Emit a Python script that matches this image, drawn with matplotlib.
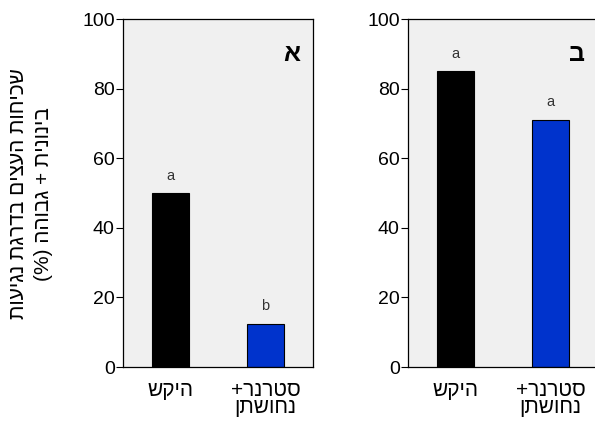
import matplotlib
matplotlib.use("Agg")
import matplotlib.pyplot as plt

plt.rcParams['font.family'] = ['Liberation Sans', 'DejaVu Sans']

# data
groups = ["היקש", "סטרנר+\nנחושתן"]
values_a = [50, 12.5]
values_b = [85, 71]
letters_a = ["a", "b"]
letters_b = ["a", "a"]
panel_names = ["א", "ב"]
bar_colors = ["black", "#0033cc"]
ylabel_lines = ["שכיחות העצים בדרגת נגיעות", "בינונית + גבוהה (%)"]


def rtl(s):
    # matplotlib lays text out left to right, so flip each line for Hebrew
    swap = {"(": ")", ")": "("}
    out = []
    for line in s.split("\n"):
        out.append("".join(swap.get(c, c) for c in line[::-1]))
    return "\n".join(out)


fig = plt.figure(figsize=(5.95, 4.26), dpi=100)
ax1 = fig.add_axes([123 / 595, 1 - 367 / 426, 190 / 595, 348 / 426])
ax2 = fig.add_axes([408 / 595, 1 - 367 / 426, 190 / 595, 348 / 426])

for ax, vals, lets, name in [(ax1, values_a, letters_a, panel_names[0]),
                             (ax2, values_b, letters_b, panel_names[1])]:
    ax.set_facecolor("#f0f0f0")
    x = list(range(len(vals)))
    ax.bar(x, vals, width=0.39, color=bar_colors, edgecolor="black", linewidth=0.8)
    for xi, v, l in zip(x, vals, lets):
        ax.text(xi, v + 3, l, ha="center", va="bottom", fontsize=10.5, color="#333333")
    ax.set_xlim(-0.5, 1.5)
    ax.set_ylim(0, 100)
    ax.set_yticks([0, 20, 40, 60, 80, 100])
    ax.set_xticks(x)
    ax.set_xticklabels([rtl(g) for g in groups], fontsize=15, linespacing=0.9)
    ax.tick_params(axis="y", labelsize=14, length=5, width=0.8, pad=1)
    ax.tick_params(axis="x", length=0, pad=10)
    for sp in ax.spines.values():
        sp.set_linewidth(0.9)
    ax.text(0.93, 0.9, rtl(name), transform=ax.transAxes, ha="right", va="center",
            fontsize=18, fontweight="bold")

# two-line y label on the left of the first panel
fig.text(19 / 595, 1 - 194 / 426, rtl(ylabel_lines[0]), rotation=90, ha="center",
         va="center", fontsize=15)
fig.text(44 / 595, 1 - 194 / 426, rtl(ylabel_lines[1]), rotation=90, ha="center",
         va="center", fontsize=15)

fig.savefig("out.png", dpi=100)
